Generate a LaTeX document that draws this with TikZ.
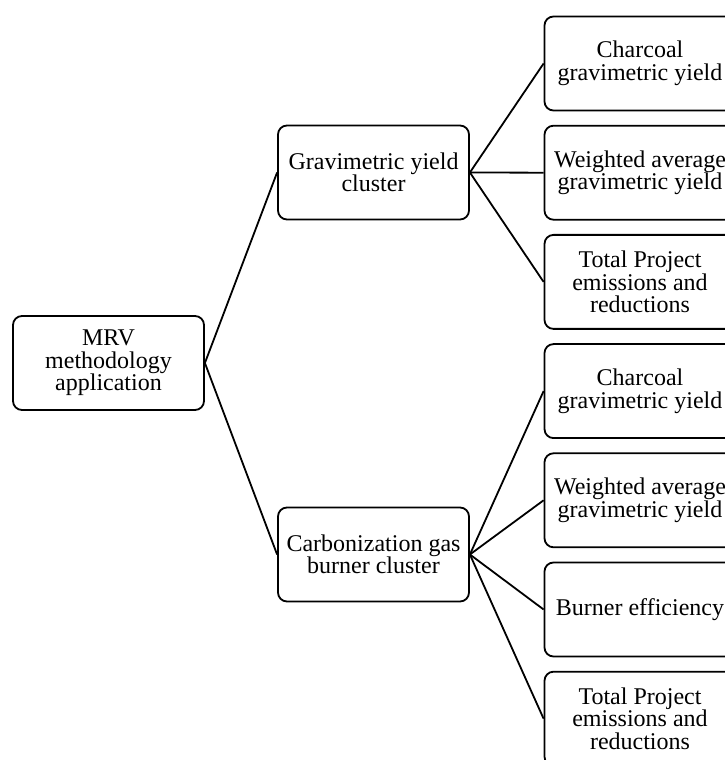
\documentclass[tikz,border=0pt]{standalone}
\usepackage{fontspec}
\setmainfont{Liberation Serif}
\usetikzlibrary{positioning}

\begin{document}
\begin{tikzpicture}[
  x=1pt, y=1pt,
  node distance=13.4pt,
  block/.style={draw, line width=1.8pt, rounded corners=9pt, align=center,
    minimum width=191pt, minimum height=94pt, inner sep=2pt,
    font=\fontsize{24}{22.5}\selectfont},
  link/.style={line width=1.8pt}
]
  \useasboundingbox (0,0) rectangle (725,760);
  \clip (0,0) rectangle (725,760);

  \node[block] (root) at (108.5,397) {MRV\\methodology\\application};
  \node[block] (gravcluster) at (373.5,587.5) {Gravimetric yield\\cluster};
  \node[block] (burnercluster) at (373.5,205.5) {Carbonization gas\\burner cluster};

  \node[block] (leaf1) at (640,696.5) {Charcoal\\gravimetric yield};
  \node[block, below=of leaf1] (leaf2) {Weighted average\\gravimetric yield};
  \node[block, below=of leaf2] (leaf3) {Total Project\\emissions and\\reductions};
  \node[block, below=of leaf3] (leaf4) {Charcoal\\gravimetric yield};
  \node[block, below=of leaf4] (leaf5) {Weighted average\\gravimetric yield};
  \node[block, below=of leaf5] (leaf6) {Burner efficiency};
  \node[block, below=of leaf6] (leaf7) {Total Project\\emissions and\\reductions};

  \draw[link] (root.east) -- (gravcluster.west);
  \draw[link] (root.east) -- (burnercluster.west);
  \foreach \leaf in {leaf1,leaf2,leaf3}
    \draw[link] (gravcluster.east) -- (\leaf.west);
  \foreach \leaf in {leaf4,leaf5,leaf6,leaf7}
    \draw[link] (burnercluster.east) -- (\leaf.west);
\end{tikzpicture}
\end{document}
